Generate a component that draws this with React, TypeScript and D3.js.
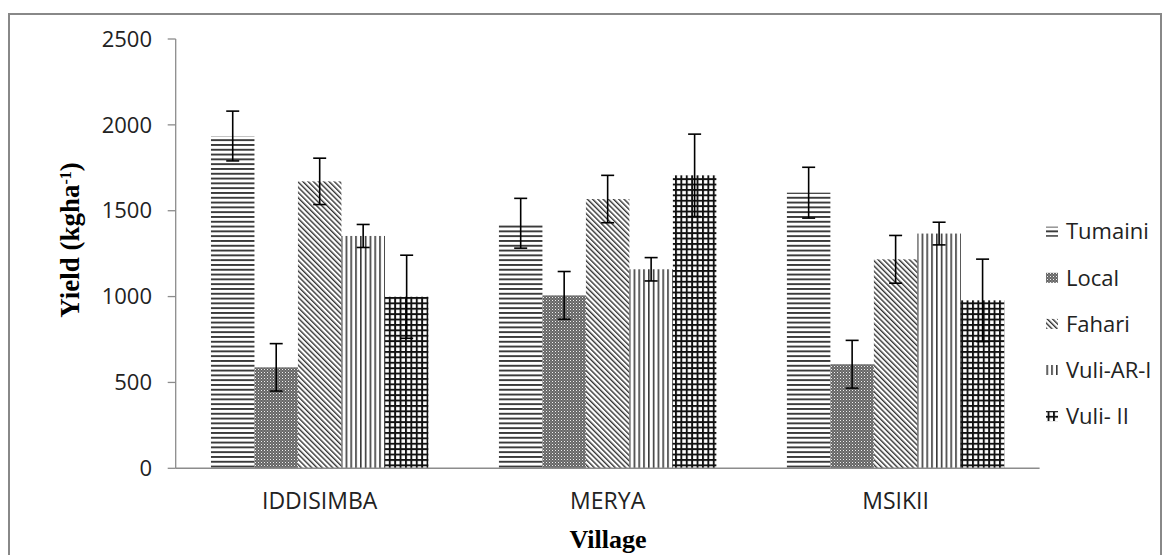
import React from "react";
import * as d3 from "d3";

const villages = ["IDDISIMBA", "MERYA", "MSIKII"];
const varieties = ["Tumaini", "Local", "Fahari", "Vuli-AR-I", "Vuli- II"];
const tumaini = [1935, 1427, 1605];
const local = [588, 1007, 606];
const fahari = [1671, 1568, 1217];
const vuliAR = [1353, 1159, 1367];
const vuliII = [999, 1706, 978];
const tumainiErr = [145, 145, 148];
const localErr = [138, 139, 139];
const fahariErr = [135, 138, 139];
const vuliARErr = [67, 68, 66];
const vuliIIErr = [242, 240, 240];
const yTicks = [0, 500, 1000, 1500, 2000, 2500];

const seriesValues = [tumaini, local, fahari, vuliAR, vuliII];
const seriesErrors = [tumainiErr, localErr, fahariErr, vuliARErr, vuliIIErr];
const patternIds = ["pHorz", "pDots", "pDiag", "pVert", "pGrid"];

const W = 1167;
const H = 555;
const left = 175.7;
const right = 1039.6;
const top = 39;
const bottom = 468.3;

export default function App() {
  const x0 = d3
    .scaleBand<string>()
    .domain(villages)
    .range([left, right])
    .paddingInner(0.245)
    .paddingOuter(0.1225);
  const x1 = d3
    .scaleBand<string>()
    .domain(varieties)
    .range([0, x0.bandwidth()])
    .padding(0);
  const y = d3.scaleLinear().domain([0, 2500]).range([bottom, top]);

  const font = "'Open Sans', 'Liberation Sans', sans-serif";
  const serif = "'Liberation Serif', 'Times New Roman', serif";
  const legendX = 1046;
  const legendY0 = 231.7;
  const legendStep = 46.1;

  return (
    <svg
      width={W}
      height={H}
      style={{ position: "absolute", left: 0, top: 0, background: "#fff" }}
    >
      <defs>
        <pattern id="pHorz" patternUnits="userSpaceOnUse" width={10} height={4.8}>
          <rect width={10} height={4.8} fill="#fff" />
          <rect y={0} width={10} height={1.9} fill="#3a3a3a" />
        </pattern>
        <pattern id="pDots" patternUnits="userSpaceOnUse" width={3} height={3}>
          <rect width={3} height={3} fill="#666" />
          <rect x={0} y={0} width={1} height={1} fill="#f0f0f0" />
          <rect x={1.5} y={1.5} width={1} height={1} fill="#aaa" />
        </pattern>
        <pattern
          id="pDiag"
          patternUnits="userSpaceOnUse"
          width={3.7}
          height={10}
          patternTransform="rotate(-45)"
        >
          <rect width={3.7} height={10} fill="#fff" />
          <rect x={0} width={1.4} height={10} fill="#333" />
        </pattern>
        <pattern id="pVert" patternUnits="userSpaceOnUse" width={4.8} height={10}>
          <rect width={4.8} height={10} fill="#fff" />
          <rect x={0} width={1.6} height={10} fill="#3a3a3a" />
        </pattern>
        <pattern id="pGrid" patternUnits="userSpaceOnUse" width={5.4} height={5.4}>
          <rect width={5.4} height={5.4} fill="#fff" />
          <rect x={0} width={1.9} height={5.4} fill="#111" />
          <rect y={0} width={5.4} height={1.9} fill="#111" />
        </pattern>
      </defs>

      <rect x={9} y={14} width={1152} height={560} fill="none" stroke="#888" strokeWidth={2} />

      {/* bars */}
      {varieties.map((v, si) => (
        <g key={v}>
          {villages.map((c, ci) => {
            const xb = (x0(c) as number) + (x1(v) as number);
            const val = seriesValues[si][ci];
            return (
              <rect
                key={c}
                x={xb}
                y={y(val)}
                width={x1.bandwidth()}
                height={bottom - y(val)}
                fill={`url(#${patternIds[si]})`}
              />
            );
          })}
        </g>
      ))}

      {/* error bars */}
      {varieties.map((v, si) => (
        <g key={v + "e"} stroke="#000" strokeWidth={1.6}>
          {villages.map((c, ci) => {
            const cx = (x0(c) as number) + (x1(v) as number) + x1.bandwidth() / 2;
            const val = seriesValues[si][ci];
            const e = seriesErrors[si][ci];
            const y1 = y(val + e);
            const y2 = y(val - e);
            return (
              <g key={c}>
                <line x1={cx} x2={cx} y1={y1} y2={y2} />
                <line x1={cx - 6.5} x2={cx + 6.5} y1={y1} y2={y1} />
                <line x1={cx - 6.5} x2={cx + 6.5} y1={y2} y2={y2} />
              </g>
            );
          })}
        </g>
      ))}

      {/* axes */}
      <line x1={left} x2={left} y1={top} y2={bottom} stroke="#8c8c8c" strokeWidth={1.3} />
      <line x1={left} x2={right} y1={bottom} y2={bottom} stroke="#8c8c8c" strokeWidth={1.6} />
      {yTicks.map((t) => (
        <g key={t}>
          <line x1={left - 8} x2={left} y1={y(t)} y2={y(t)} stroke="#8c8c8c" strokeWidth={1.3} />
          <text
            x={152}
            y={y(t)}
            dy="0.35em"
            textAnchor="end"
            fontFamily={font}
            fontSize={22}
            fill="#222"
          >
            {t}
          </text>
        </g>
      ))}
      {villages.map((c) => (
        <text
          key={c}
          x={(x0(c) as number) + x0.bandwidth() / 2}
          y={501}
          dy="0.35em"
          textAnchor="middle"
          fontFamily={font}
          fontSize={23}
          fill="#222"
        >
          {c}
        </text>
      ))}

      {/* axis titles */}
      <text
        transform={`translate(70,240) rotate(-90)`}
        textAnchor="middle"
        dy="0.35em"
        fontFamily={serif}
        fontWeight="bold"
        fontSize={27}
        fill="#000"
      >
        Yield (kgha
        <tspan baselineShift="super" fontSize={16}>
          -1
        </tspan>
        )
      </text>
      <text
        x={608}
        y={539}
        dy="0.35em"
        textAnchor="middle"
        fontFamily={serif}
        fontWeight="bold"
        fontSize={26}
        fill="#000"
      >
        Village
      </text>

      {/* legend */}
      {varieties.map((v, i) => {
        const ly = legendY0 + i * legendStep;
        return (
          <g key={v + "l"}>
            <rect x={legendX} y={ly - 5} width={12} height={10} fill={`url(#${patternIds[i]})`} />
            <text
              x={legendX + 20}
              y={ly}
              dy="0.35em"
              fontFamily={font}
              fontSize={22}
              fill="#222"
            >
              {v}
            </text>
          </g>
        );
      })}
    </svg>
  );
}
